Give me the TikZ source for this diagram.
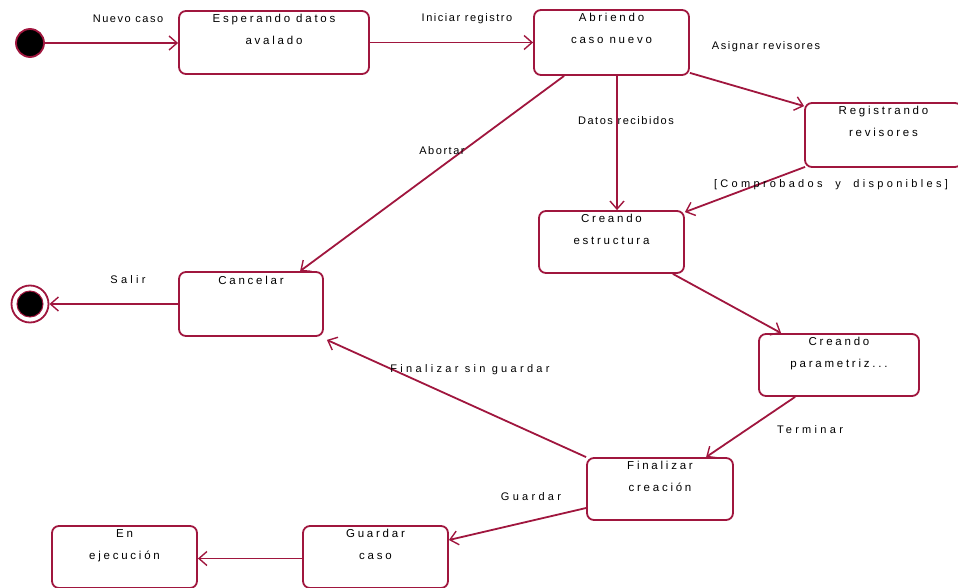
\documentclass[tikz,border=0pt]{standalone}
\usepackage{fontspec}
\setmainfont{Liberation Sans}
\newfontfamily\lblfont{Liberation Sans}[LetterSpace=14]
\newfontfamily\lblwidefont{Liberation Sans}[LetterSpace=30]
\newfontfamily\stfont{Liberation Sans}[LetterSpace=24]
\usetikzlibrary{arrows.meta,calc}
\definecolor{umlred}{RGB}{160,22,62}
\begin{document}
\begin{tikzpicture}[x=1pt,y=-1pt,
  state/.style={draw=umlred,line width=1.8pt,rounded corners=7pt,inner sep=0pt,fill=white},
  stname/.style={anchor=north,align=center,font=\stfont\fontsize{11.5}{22}\selectfont,inner sep=0pt},
  lbl/.style={font=\lblfont\fontsize{11}{13}\selectfont,inner sep=0pt},
  lblwide/.style={font=\lblwidefont\fontsize{11}{13}\selectfont,inner sep=0pt},
  trans/.style={draw=umlred,line width=1.8pt,-{Straight Barb[length=8pt,width=14pt,line width=1.4pt]}},
]
\useasboundingbox (0,0) rectangle (958,588);

% pseudo-states
\node[circle,fill=black,draw=umlred,line width=1.8pt,minimum size=28pt,inner sep=0pt] (ini) at (30,43) {};
\node[circle,draw=umlred,line width=1.8pt,minimum size=37pt,inner sep=0pt] (fino) at (30,304) {};
\node[circle,fill=black,draw=umlred,line width=1pt,minimum size=26pt,inner sep=0pt] (fini) at (30,304) {};

% states
\node[state,minimum width=190pt,minimum height=63pt] (esp) at (274,42.5) {};
\node[state,minimum width=155pt,minimum height=65pt] (abr) at (611.5,42.5) {};
\node[state,minimum width=157pt,minimum height=64pt] (reg) at (883.5,135) {};
\node[state,minimum width=145pt,minimum height=62pt] (est) at (611.5,242) {};
\node[state,minimum width=144pt,minimum height=64pt] (can) at (251,304) {};
\node[state,minimum width=160pt,minimum height=62pt] (par) at (839,365) {};
\node[state,minimum width=146pt,minimum height=62pt] (fin) at (660,489) {};
\node[state,minimum width=145pt,minimum height=62pt] (gua) at (375.5,557) {};
\node[state,minimum width=145pt,minimum height=62pt] (eje) at (124.5,557) {};

% state names
\node[stname] (tesp) at ([yshift=-4pt]esp.north) {Esperando datos\\avalado};
\node[stname] (tabr) at ([yshift=-4pt]abr.north) {Abriendo\\caso nuevo};
\node[stname] (treg) at ([yshift=-4pt]reg.north) {Registrando\\revisores};
\node[stname] (test) at ([yshift=-4pt]est.north) {Creando\\estructura};
\node[stname] (tcan) at ([yshift=-5pt]can.north) {Cancelar};
\node[stname] (tpar) at ([yshift=-4pt]par.north) {Creando\\parametriz...};
\node[stname] (tfin) at ([yshift=-4pt]fin.north) {Finalizar\\creación};
\node[stname] (tgua) at ([yshift=-4pt]gua.north) {Guardar\\caso};
\node[stname] (teje) at ([yshift=-4pt]eje.north) {En\\ejecución};

% transitions
\draw[trans] (ini.east) -- (ini.east -| esp.west);
\draw[trans] (esp.east) -- (abr.west);
\draw[trans] ([yshift=3pt]abr.south east) -- ([yshift=-4pt]reg.north west);
\draw[trans] ([xshift=5.5pt]abr.south) -- ([xshift=5.5pt]est.north);
\draw[trans] ([xshift=31pt]abr.south west) -- ([xshift=122pt]can.north west);
\draw[trans] ([xshift=1pt,yshift=1pt]reg.south west) -- ([yshift=-2pt]est.north east);
\draw[trans] ([xshift=-12pt]est.south east) -- ([xshift=23pt]par.north west);
\draw[trans] ([xshift=37pt]par.south west) -- ([xshift=120pt]fin.north west);
\draw[trans] (fin.north west) -- ([xshift=3pt,yshift=-3pt]can.south east);
\draw[trans] ([yshift=-19pt]fin.west) -- ([yshift=17pt]gua.east);
\draw[trans] ([yshift=-1.5pt]gua.west) -- ([yshift=-1.5pt]eje.east);
\draw[trans] (can.west) -- (fino.east);

% transition labels
\node[lbl] (lnue) at (128,19) {Nuevo caso};
\node[lbl] (lini) at (467,19) {Iniciar registro};
\node[lbl] (lasi) at (766,47) {Asignar revisores};
\node[lbl] (ldat) at (626,121) {Datos recibidos};
\node[lbl] (labo) at (442,151) {Abortar};
\node[lblwide] (lcom) at (831,185) {[Comprobados \ y \ disponibles]};
\node[lblwide] (lsal) at (128,280) {Salir};
\node[lblwide] (lsin) at (470,370) {Finalizar sin guardar};
\node[lblwide] (lter) at (810,430) {Terminar};
\node[lblwide] (lgua) at (531,497) {Guardar};
\end{tikzpicture}
\end{document}
